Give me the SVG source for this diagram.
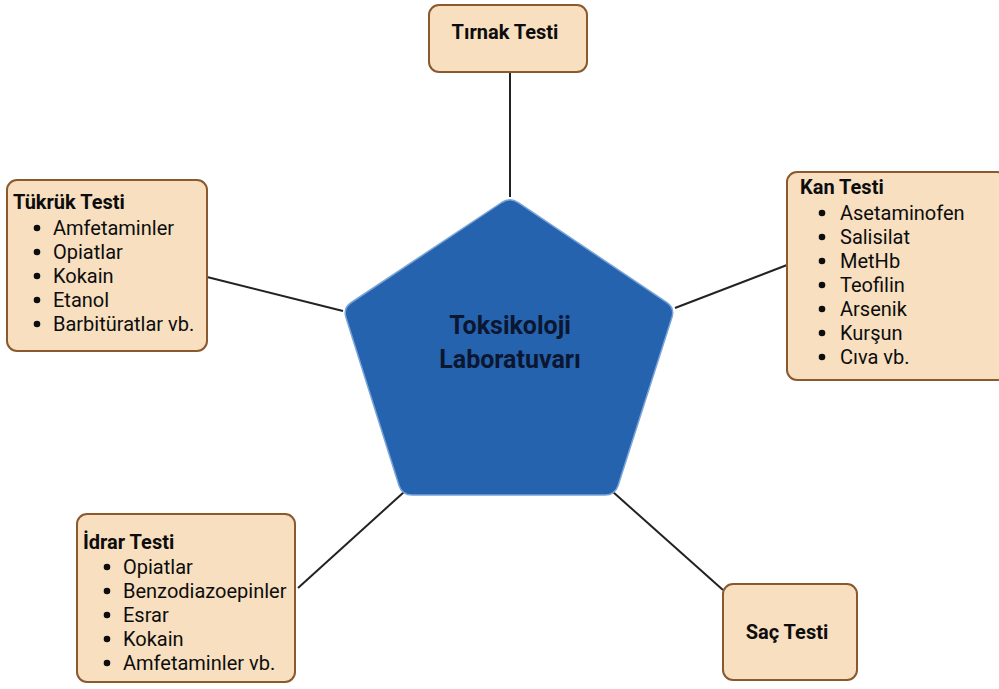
<svg xmlns="http://www.w3.org/2000/svg" width="999" height="689" viewBox="0 0 999 689">
<style>
.box{fill:#f7dfc0;stroke:#8a5a2e;stroke-width:2}
.t{font-family:Roboto,"Liberation Sans",sans-serif;font-weight:bold;font-size:20px;fill:#0d0d0d}
.i{font-family:Roboto,"Liberation Sans",sans-serif;font-size:20px;fill:#0d0d0d}
.b{fill:#0d0d0d}
.c{stroke:#222;stroke-width:2;fill:none}
.ctr{font-family:Roboto,"Liberation Sans",sans-serif;font-weight:bold;font-size:25px;fill:#0b1630;text-anchor:middle}
</style>
<rect width="999" height="689" fill="#ffffff"/>
<g id="connectors">
<line class="c" x1="510" y1="72" x2="510" y2="197"/>
<line class="c" x1="207" y1="277" x2="343" y2="311"/>
<line class="c" x1="787" y1="265" x2="675" y2="308"/>
<line class="c" x1="298" y1="588" x2="404" y2="492"/>
<line class="c" x1="613" y1="492" x2="723" y2="590"/>
</g>
<g id="center">
<path d="M501.7,202.5 Q510,197 518.3,202.6 L666.7,302.4 Q675,308 671.9,317.5 L618.1,485.5 Q615,495 605,495 L412,495 Q402,495 399,485.5 L346,317.5 Q343,308 351.3,302.5 Z" fill="#2563ae" stroke="#7aa3d8" stroke-width="1.5"/>
<text class="ctr" x="510" y="334">Toksikoloji</text>
<text class="ctr" x="510" y="368">Laboratuvarı</text>
</g>
<g id="tirnak">
<rect class="box" x="429" y="5" width="158" height="67" rx="10"/>
<text class="t" x="505" y="39" text-anchor="middle">Tırnak Testi</text>
</g>
<g id="tukruk">
<rect class="box" x="7" y="180" width="200" height="171" rx="10"/>
<text class="t" x="13" y="209">Tükrük Testi</text>
<g class="b">
<circle cx="37" cy="228" r="3.3"/><circle cx="37" cy="252" r="3.3"/><circle cx="37" cy="276" r="3.3"/><circle cx="37" cy="300" r="3.3"/><circle cx="37" cy="324" r="3.3"/>
</g>
<g class="i">
<text x="53" y="235">Amfetaminler</text>
<text x="53" y="259">Opiatlar</text>
<text x="53" y="283">Kokain</text>
<text x="53" y="307">Etanol</text>
<text x="53" y="331">Barbitüratlar vb.</text>
</g>
</g>
<g id="kan">
<rect class="box" x="787" y="172" width="220" height="208" rx="10"/>
<text class="t" x="800" y="194">Kan Testi</text>
<g class="b">
<circle cx="822" cy="213" r="3.3"/><circle cx="822" cy="237" r="3.3"/><circle cx="822" cy="261" r="3.3"/><circle cx="822" cy="285" r="3.3"/><circle cx="822" cy="309" r="3.3"/><circle cx="822" cy="333" r="3.3"/><circle cx="822" cy="357" r="3.3"/>
</g>
<g class="i">
<text x="840" y="220">Asetaminofen</text>
<text x="840" y="244">Salisilat</text>
<text x="840" y="268">MetHb</text>
<text x="840" y="292">Teofilin</text>
<text x="840" y="316">Arsenik</text>
<text x="840" y="340">Kurşun</text>
<text x="840" y="364">Cıva vb.</text>
</g>
</g>
<g id="idrar">
<rect class="box" x="77" y="514" width="218" height="168" rx="10"/>
<text class="t" x="83" y="549">İdrar Testi</text>
<g class="b">
<circle cx="107" cy="567" r="3.3"/><circle cx="107" cy="591" r="3.3"/><circle cx="107" cy="615" r="3.3"/><circle cx="107" cy="639" r="3.3"/><circle cx="107" cy="663" r="3.3"/>
</g>
<g class="i">
<text x="123" y="574">Opiatlar</text>
<text x="123" y="598">Benzodiazoepinler</text>
<text x="123" y="622">Esrar</text>
<text x="123" y="646">Kokain</text>
<text x="123" y="670">Amfetaminler vb.</text>
</g>
</g>
<g id="sac">
<rect class="box" x="723" y="584" width="134" height="96" rx="10"/>
<text class="t" x="787" y="639" text-anchor="middle">Saç Testi</text>
</g>
</svg>
